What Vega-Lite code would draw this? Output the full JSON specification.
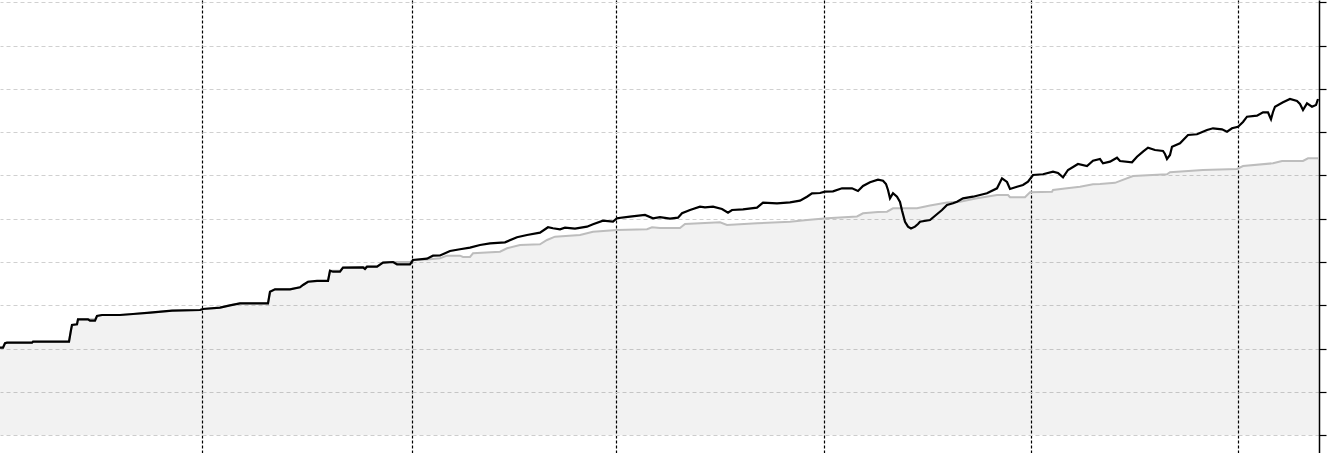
{
  "$schema": "https://vega.github.io/schema/vega-lite/v6.json",
  "width": 1319,
  "height": 453,
  "padding": {"left": 0, "top": 0, "right": 13, "bottom": 0},
  "autosize": {"type": "none"},
  "background": "white",
  "config": {"view": {"stroke": null}},
  "datasets": {
    "strategy": [
      {"t": 0, "v": 2.023}, {"t": 3, "v": 2.023}, {"t": 5, "v": 2.125}, {"t": 7, "v": 2.139}, {"t": 32, "v": 2.139},
      {"t": 33, "v": 2.162}, {"t": 69, "v": 2.162}, {"t": 71, "v": 2.432}, {"t": 72, "v": 2.547}, {"t": 77, "v": 2.564},
      {"t": 78, "v": 2.679}, {"t": 88, "v": 2.679}, {"t": 90, "v": 2.647}, {"t": 95, "v": 2.647}, {"t": 97, "v": 2.755},
      {"t": 102, "v": 2.778}, {"t": 120, "v": 2.778}, {"t": 133, "v": 2.801}, {"t": 150, "v": 2.831}, {"t": 172, "v": 2.878},
      {"t": 200, "v": 2.894}, {"t": 203, "v": 2.917}, {"t": 220, "v": 2.947}, {"t": 230, "v": 3.002}, {"t": 240, "v": 3.048},
      {"t": 268, "v": 3.048}, {"t": 270, "v": 3.316}, {"t": 275, "v": 3.372}, {"t": 290, "v": 3.372}, {"t": 300, "v": 3.418},
      {"t": 303, "v": 3.471}, {"t": 308, "v": 3.547}, {"t": 317, "v": 3.564}, {"t": 328, "v": 3.564}, {"t": 330, "v": 3.801},
      {"t": 333, "v": 3.778}, {"t": 340, "v": 3.778}, {"t": 343, "v": 3.871}, {"t": 363, "v": 3.880}, {"t": 365, "v": 3.841},
      {"t": 367, "v": 3.894}, {"t": 377, "v": 3.894}, {"t": 383, "v": 3.986}, {"t": 393, "v": 4.002}, {"t": 397, "v": 3.949},
      {"t": 410, "v": 3.949}, {"t": 413, "v": 4.048}, {"t": 427, "v": 4.079}, {"t": 433, "v": 4.148}, {"t": 440, "v": 4.152},
      {"t": 450, "v": 4.256}, {"t": 460, "v": 4.296}, {"t": 470, "v": 4.333}, {"t": 480, "v": 4.395}, {"t": 490, "v": 4.434},
      {"t": 505, "v": 4.457}, {"t": 517, "v": 4.573}, {"t": 527, "v": 4.626}, {"t": 540, "v": 4.679}, {"t": 548, "v": 4.804},
      {"t": 553, "v": 4.781}, {"t": 560, "v": 4.758}, {"t": 565, "v": 4.794}, {"t": 575, "v": 4.771}, {"t": 587, "v": 4.818},
      {"t": 593, "v": 4.873}, {"t": 603, "v": 4.956}, {"t": 613, "v": 4.933}, {"t": 617, "v": 5.012}, {"t": 630, "v": 5.048},
      {"t": 645, "v": 5.088}, {"t": 653, "v": 5.012}, {"t": 660, "v": 5.037}, {"t": 670, "v": 5.002}, {"t": 678, "v": 5.025},
      {"t": 682, "v": 5.127}, {"t": 690, "v": 5.203}, {"t": 700, "v": 5.279}, {"t": 705, "v": 5.266}, {"t": 713, "v": 5.279},
      {"t": 722, "v": 5.226}, {"t": 728, "v": 5.141}, {"t": 732, "v": 5.203}, {"t": 743, "v": 5.219}, {"t": 757, "v": 5.256},
      {"t": 763, "v": 5.372}, {"t": 777, "v": 5.358}, {"t": 790, "v": 5.381}, {"t": 800, "v": 5.418}, {"t": 807, "v": 5.510},
      {"t": 812, "v": 5.589}, {"t": 820, "v": 5.596}, {"t": 825, "v": 5.626}, {"t": 833, "v": 5.635}, {"t": 842, "v": 5.704},
      {"t": 852, "v": 5.704}, {"t": 858, "v": 5.642}, {"t": 863, "v": 5.758}, {"t": 870, "v": 5.845}, {"t": 878, "v": 5.905},
      {"t": 883, "v": 5.880}, {"t": 886, "v": 5.804}, {"t": 888, "v": 5.665}, {"t": 890, "v": 5.473}, {"t": 893, "v": 5.589},
      {"t": 897, "v": 5.510}, {"t": 900, "v": 5.388}, {"t": 902, "v": 5.192}, {"t": 905, "v": 4.933}, {"t": 908, "v": 4.818},
      {"t": 911, "v": 4.776}, {"t": 915, "v": 4.818}, {"t": 918, "v": 4.880}, {"t": 920, "v": 4.933}, {"t": 930, "v": 4.972},
      {"t": 936, "v": 5.088}, {"t": 942, "v": 5.203}, {"t": 947, "v": 5.319}, {"t": 953, "v": 5.358}, {"t": 957, "v": 5.395},
      {"t": 963, "v": 5.473}, {"t": 973, "v": 5.510}, {"t": 980, "v": 5.550}, {"t": 987, "v": 5.589}, {"t": 990, "v": 5.626},
      {"t": 997, "v": 5.704}, {"t": 1002, "v": 5.935}, {"t": 1007, "v": 5.850}, {"t": 1010, "v": 5.688}, {"t": 1017, "v": 5.741},
      {"t": 1023, "v": 5.781}, {"t": 1028, "v": 5.857}, {"t": 1033, "v": 6.012}, {"t": 1043, "v": 6.028}, {"t": 1053, "v": 6.088},
      {"t": 1058, "v": 6.058}, {"t": 1063, "v": 5.958}, {"t": 1068, "v": 6.127}, {"t": 1078, "v": 6.266}, {"t": 1087, "v": 6.219},
      {"t": 1093, "v": 6.342}, {"t": 1100, "v": 6.381}, {"t": 1103, "v": 6.282}, {"t": 1110, "v": 6.319}, {"t": 1117, "v": 6.411},
      {"t": 1120, "v": 6.335}, {"t": 1132, "v": 6.305}, {"t": 1137, "v": 6.434}, {"t": 1143, "v": 6.550}, {"t": 1148, "v": 6.642},
      {"t": 1155, "v": 6.589}, {"t": 1163, "v": 6.566}, {"t": 1165, "v": 6.497}, {"t": 1167, "v": 6.381}, {"t": 1170, "v": 6.473},
      {"t": 1172, "v": 6.665}, {"t": 1180, "v": 6.744}, {"t": 1188, "v": 6.935}, {"t": 1197, "v": 6.952}, {"t": 1207, "v": 7.051},
      {"t": 1213, "v": 7.090}, {"t": 1222, "v": 7.067}, {"t": 1227, "v": 7.012}, {"t": 1232, "v": 7.090}, {"t": 1238, "v": 7.127},
      {"t": 1243, "v": 7.236}, {"t": 1247, "v": 7.358}, {"t": 1257, "v": 7.381}, {"t": 1263, "v": 7.460}, {"t": 1268, "v": 7.460},
      {"t": 1270, "v": 7.351}, {"t": 1271, "v": 7.298}, {"t": 1273, "v": 7.467}, {"t": 1275, "v": 7.589}, {"t": 1283, "v": 7.690},
      {"t": 1290, "v": 7.767}, {"t": 1297, "v": 7.721}, {"t": 1300, "v": 7.651}, {"t": 1303, "v": 7.513}, {"t": 1307, "v": 7.667},
      {"t": 1312, "v": 7.589}, {"t": 1316, "v": 7.628}, {"t": 1318, "v": 7.767}
    ],
    "benchmark": [
      {"t": 0, "v": 2.023}, {"t": 3, "v": 2.023}, {"t": 5, "v": 2.125}, {"t": 7, "v": 2.139}, {"t": 32, "v": 2.139},
      {"t": 33, "v": 2.162}, {"t": 69, "v": 2.162}, {"t": 71, "v": 2.432}, {"t": 72, "v": 2.547}, {"t": 77, "v": 2.564},
      {"t": 78, "v": 2.679}, {"t": 95, "v": 2.679}, {"t": 97, "v": 2.755}, {"t": 102, "v": 2.778}, {"t": 120, "v": 2.778},
      {"t": 133, "v": 2.801}, {"t": 150, "v": 2.831}, {"t": 172, "v": 2.878}, {"t": 200, "v": 2.894}, {"t": 203, "v": 2.917},
      {"t": 220, "v": 2.947}, {"t": 230, "v": 3.002}, {"t": 240, "v": 3.048}, {"t": 268, "v": 3.048}, {"t": 270, "v": 3.316},
      {"t": 275, "v": 3.372}, {"t": 290, "v": 3.372}, {"t": 300, "v": 3.418}, {"t": 303, "v": 3.471}, {"t": 308, "v": 3.547},
      {"t": 317, "v": 3.564}, {"t": 328, "v": 3.564}, {"t": 330, "v": 3.801}, {"t": 340, "v": 3.801}, {"t": 343, "v": 3.871},
      {"t": 363, "v": 3.880}, {"t": 367, "v": 3.894}, {"t": 377, "v": 3.894}, {"t": 383, "v": 3.986}, {"t": 393, "v": 4.002},
      {"t": 410, "v": 4.002}, {"t": 413, "v": 4.048}, {"t": 427, "v": 4.060}, {"t": 440, "v": 4.088}, {"t": 447, "v": 4.148},
      {"t": 460, "v": 4.148}, {"t": 463, "v": 4.118}, {"t": 470, "v": 4.118}, {"t": 473, "v": 4.203}, {"t": 500, "v": 4.240},
      {"t": 507, "v": 4.319}, {"t": 520, "v": 4.395}, {"t": 540, "v": 4.411}, {"t": 547, "v": 4.510}, {"t": 555, "v": 4.587},
      {"t": 580, "v": 4.626}, {"t": 593, "v": 4.702}, {"t": 617, "v": 4.741}, {"t": 647, "v": 4.758}, {"t": 652, "v": 4.804},
      {"t": 660, "v": 4.788}, {"t": 680, "v": 4.788}, {"t": 685, "v": 4.880}, {"t": 720, "v": 4.919}, {"t": 727, "v": 4.857},
      {"t": 757, "v": 4.896}, {"t": 790, "v": 4.933}, {"t": 807, "v": 4.972}, {"t": 827, "v": 5.012}, {"t": 857, "v": 5.053},
      {"t": 863, "v": 5.127}, {"t": 878, "v": 5.157}, {"t": 887, "v": 5.164}, {"t": 893, "v": 5.242}, {"t": 917, "v": 5.242},
      {"t": 930, "v": 5.307}, {"t": 947, "v": 5.376}, {"t": 960, "v": 5.395}, {"t": 977, "v": 5.473}, {"t": 997, "v": 5.550},
      {"t": 1008, "v": 5.550}, {"t": 1010, "v": 5.497}, {"t": 1025, "v": 5.497}, {"t": 1030, "v": 5.612}, {"t": 1052, "v": 5.626},
      {"t": 1053, "v": 5.665}, {"t": 1067, "v": 5.704}, {"t": 1080, "v": 5.741}, {"t": 1093, "v": 5.797}, {"t": 1100, "v": 5.804},
      {"t": 1115, "v": 5.831}, {"t": 1133, "v": 5.988}, {"t": 1167, "v": 6.028}, {"t": 1170, "v": 6.074}, {"t": 1203, "v": 6.127},
      {"t": 1237, "v": 6.150}, {"t": 1243, "v": 6.219}, {"t": 1273, "v": 6.282}, {"t": 1282, "v": 6.335}, {"t": 1303, "v": 6.335},
      {"t": 1308, "v": 6.397}, {"t": 1319, "v": 6.397}
    ]
  },
  "encoding": {
    "x": {
      "field": "t",
      "type": "quantitative",
      "scale": {"domain": [0, 1319], "nice": false, "zero": false},
      "axis": {
        "values": [202.3, 411.7, 616.3, 824.3, 1030.7, 1238.3],
        "grid": true,
        "gridColor": "#000000",
        "gridDash": [3, 2],
        "gridWidth": 1.2,
        "gridOpacity": 1,
        "labels": false,
        "ticks": false,
        "domain": false,
        "title": null
      }
    },
    "y": {
      "field": "v",
      "type": "quantitative",
      "scale": {"domain": [-0.409, 10.053], "nice": false, "zero": false},
      "axis": {
        "orient": "right",
        "values": [0, 1, 2, 3, 4, 5, 6, 7, 8, 9, 10],
        "grid": true,
        "gridColor": "#d0d0d0",
        "gridDash": [4, 3],
        "gridWidth": 1,
        "gridOpacity": 1,
        "labels": false,
        "ticks": true,
        "tickColor": "#000000",
        "tickSize": 7,
        "tickWidth": 1.2,
        "domain": true,
        "domainColor": "#000000",
        "domainWidth": 1.5,
        "title": null
      }
    }
  },
  "layer": [
    {
      "data": {"name": "benchmark"},
      "mark": {"type": "area", "color": "#000000", "opacity": 0.05}
    },
    {
      "data": {"name": "benchmark"},
      "mark": {"type": "line", "color": "#bdbdbd", "strokeWidth": 2}
    },
    {
      "data": {"name": "strategy"},
      "mark": {"type": "line", "color": "#000000", "strokeWidth": 2.2}
    }
  ]
}
